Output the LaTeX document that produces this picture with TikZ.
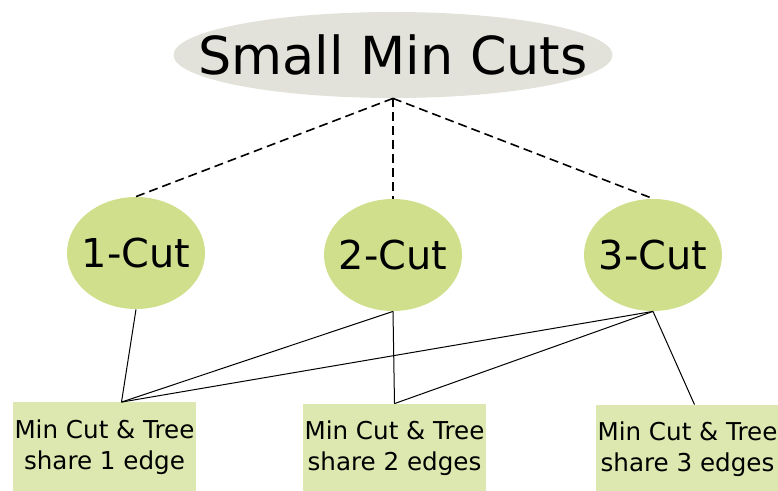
\documentclass[tikz,border=0pt]{standalone}
\usepackage{fontspec}
\setmainfont{DejaVu Sans}
\usetikzlibrary{shapes.geometric}
\definecolor{topgray}{RGB}{226,226,218}
\definecolor{cutgreen}{RGB}{208,223,140}
\definecolor{boxgreen}{RGB}{221,232,176}

\begin{document}
\begin{tikzpicture}[x=0.5pt,y=-0.5pt,
	rootnode/.style={ellipse, fill=topgray, inner sep=0pt, minimum width=219.5pt, minimum height=43pt, font=\fontsize{26.2}{30}\selectfont},
	cutnode/.style={ellipse, fill=cutgreen, inner sep=0pt, minimum width=69pt, minimum height=56pt, font=\fontsize{19.9}{24}\selectfont},
	sharebox/.style={rectangle, fill=boxgreen, inner sep=0pt, minimum width=91.5pt, minimum height=44.5pt, align=center, font=\fontsize{12.3}{15.5}\selectfont},
	tie/.style={black, line width=0.5pt}
	]
	
	% Parameters
	\def\rowtwo{447}
	\useasboundingbox (0,0) rectangle (778,491);
	
	% root
	\node[rootnode] (root) at (393,55) {\makebox[0pt]{Small Min Cuts}};
	
	% cut types
	\node[cutnode] (c1) at (136,253) {\makebox[0pt]{1-Cut}};
	\node[cutnode] (c2) at (393,255) {\makebox[0pt]{2-Cut}};
	\node[cutnode] (c3) at (653,255) {\makebox[0pt]{3-Cut}};
	
	% share boxes
	\node[sharebox] (b1) at (104.5,\rowtwo) {Min Cut \& Tree\\share 1 edge};
	\node[sharebox] (b2) at (394.5,\rowtwo+1.5) {Min Cut \& Tree\\share 2 edges};
	\node[sharebox] (b3) at (687.5,\rowtwo+2.5) {Min Cut \& Tree\\share 3 edges};
	\coordinate (b1top) at ([xshift=8.5pt]b1.north);
	\coordinate (b3top) at ([xshift=3.5pt]b3.north);
	
	% dashed links
	\foreach \c in {c1,c2,c3} {
		\draw[black, dash pattern=on 4.5pt off 2.5pt, line width=0.8pt] (root.south) -- (\c.north);
	}
	
	% solid links
	\foreach \c/\b in {c1/b1top, c2/b1top, c2/b2, c3/b1top, c3/b2, c3/b3top} {
		\draw[tie] (\c.south) -- (\b.north);
	}
	
\end{tikzpicture}
\end{document}
